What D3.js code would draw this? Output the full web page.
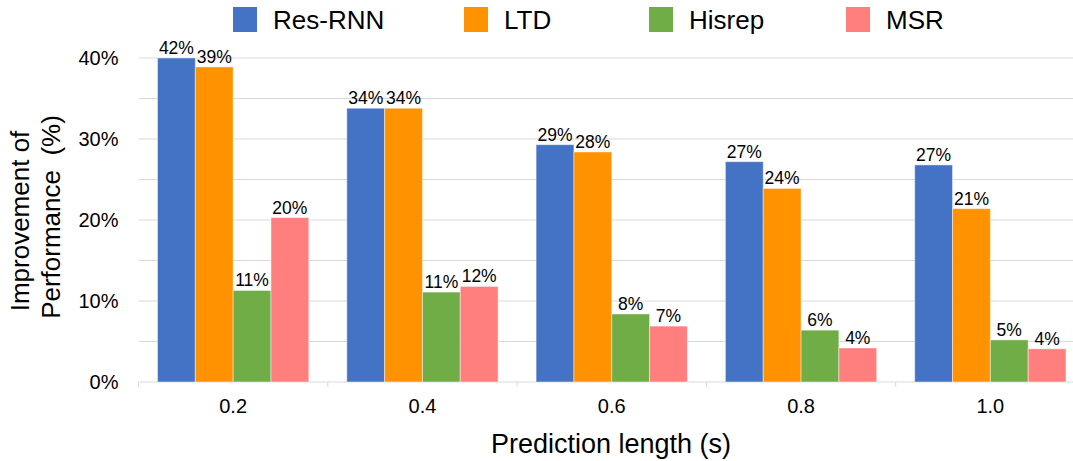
<!DOCTYPE html>
<html lang="en">
<head>
    <meta charset="UTF-8">
    <title>Improvement of Performance</title>
    <script src="https://cdn.jsdelivr.net/npm/d3@7/dist/d3.min.js"></script>
    <style>
        body { margin: 0; background: #fff; overflow: hidden; }
        text { font-family: "Liberation Sans", Arial, sans-serif; fill: #000; }
        .grid line { stroke: #d9d9d9; stroke-width: 1; }
    </style>
</head>
<body>
<script>
    const width = 1073;
    const height = 461;

    // data
    const lengths = ['0.2', '0.4', '0.6', '0.8', '1.0'];
    const seriesNames = ['Res-RNN', 'LTD', 'Hisrep', 'MSR'];
    const seriesColors = ['#4472C4', '#FF9200', '#70AD47', '#FF7F7F'];
    const resRnn = [42, 33.8, 29.3, 27.2, 26.8];
    const ltd = [38.9, 33.8, 28.4, 23.9, 21.4];
    const hisrep = [11.3, 11.1, 8.4, 6.4, 5.2];
    const msr = [20.3, 11.8, 6.9, 4.2, 4.1];
    const yTicks = [0, 10, 20, 30, 40];
    const seriesValues = [resRnn, ltd, hisrep, msr];

    // plot area runs a little past the right edge of the picture
    const margin = { left: 138.5, right: -12, top: 58, bottom: 79 };
    const plotW = width - margin.left - margin.right;
    const plotH = height - margin.top - margin.bottom;

    let svg = d3.select('body').append('svg')
        .attr('width', width)
        .attr('height', height);

    let g = svg.append('g').attr('transform', `translate(${margin.left},${margin.top})`);

    let x0 = d3.scaleBand().domain(lengths).range([0, plotW]).padding(0);
    let x1 = d3.scaleBand().domain(seriesNames)
        .range([19, x0.bandwidth() - 19]).padding(0);
    let y = d3.scaleLinear().domain([0, 40]).range([plotH, 0]).clamp(true);

    // gridlines every 5%
    g.append('g').attr('class', 'grid')
        .selectAll('line')
        .data(d3.range(5, 41, 5))
        .join('line')
        .attr('x1', 0).attr('x2', plotW)
        .attr('y1', d => y(d)).attr('y2', d => y(d));

    // baseline + ticks between groups
    g.append('line')
        .attr('x1', 0).attr('x2', plotW)
        .attr('y1', plotH).attr('y2', plotH)
        .attr('stroke', '#d9d9d9');
    g.append('g').selectAll('line')
        .data(d3.range(0, lengths.length + 1))
        .join('line')
        .attr('x1', i => i * x0.bandwidth()).attr('x2', i => i * x0.bandwidth())
        .attr('y1', plotH).attr('y2', plotH + 5)
        .attr('stroke', '#d9d9d9');

    // y tick labels
    g.append('g').selectAll('text')
        .data(yTicks)
        .join('text')
        .attr('x', -20)
        .attr('y', d => y(d))
        .attr('dy', '0.35em')
        .attr('text-anchor', 'end')
        .style('font-size', '20px')
        .text(d => d + '%');

    // x tick labels
    g.append('g').selectAll('text')
        .data(lengths)
        .join('text')
        .attr('x', d => x0(d) + x0.bandwidth() / 2)
        .attr('y', plotH + 31)
        .attr('text-anchor', 'middle')
        .style('font-size', '20px')
        .text(d => d);

    // bars
    let groups = g.append('g').selectAll('g')
        .data(lengths)
        .join('g')
        .attr('transform', d => `translate(${x0(d)},0)`);

    let cells = groups.selectAll('g')
        .data((d, i) => seriesNames.map((s, k) => ({ s: s, k: k, v: seriesValues[k][i] })))
        .join('g');

    cells.append('rect')
        .attr('x', d => x1(d.s))
        .attr('width', x1.bandwidth())
        .attr('y', d => y(d.v))
        .attr('height', d => plotH - y(d.v))
        .attr('fill', d => seriesColors[d.k])
        .attr('stroke', 'rgba(255,255,255,0.45)')
        .attr('stroke-width', 1);

    cells.append('text')
        .attr('x', d => x1(d.s) + x1.bandwidth() / 2)
        .attr('y', d => y(d.v) - 4)
        .attr('text-anchor', 'middle')
        .style('font-size', '17.5px')
        .text(d => Math.round(d.v) + '%');

    // axis titles
    svg.append('text')
        .attr('transform', 'translate(20,221) rotate(-90)')
        .attr('text-anchor', 'middle')
        .attr('dy', '0.35em')
        .style('font-size', '26px')
        .text('Improvement of');
    svg.append('text')
        .attr('transform', 'translate(51,217) rotate(-90)')
        .attr('text-anchor', 'middle')
        .attr('dy', '0.35em')
        .style('font-size', '26px')
        .text('Performance\u00a0\u00a0(%)');

    svg.append('text')
        .attr('x', 611)
        .attr('y', 453)
        .attr('text-anchor', 'middle')
        .style('font-size', '27px')
        .text('Prediction length (s)');

    // legend
    const legendX = [233, 464, 649, 846];
    let legend = svg.append('g').selectAll('g')
        .data(seriesNames)
        .join('g')
        .attr('transform', (d, i) => `translate(${legendX[i]},7)`);
    legend.append('rect')
        .attr('width', 24).attr('height', 25)
        .attr('fill', (d, i) => seriesColors[i]);
    legend.append('text')
        .attr('x', 40).attr('y', 22)
        .style('font-size', '26px')
        .text(d => d);
</script>
</body>
</html>
